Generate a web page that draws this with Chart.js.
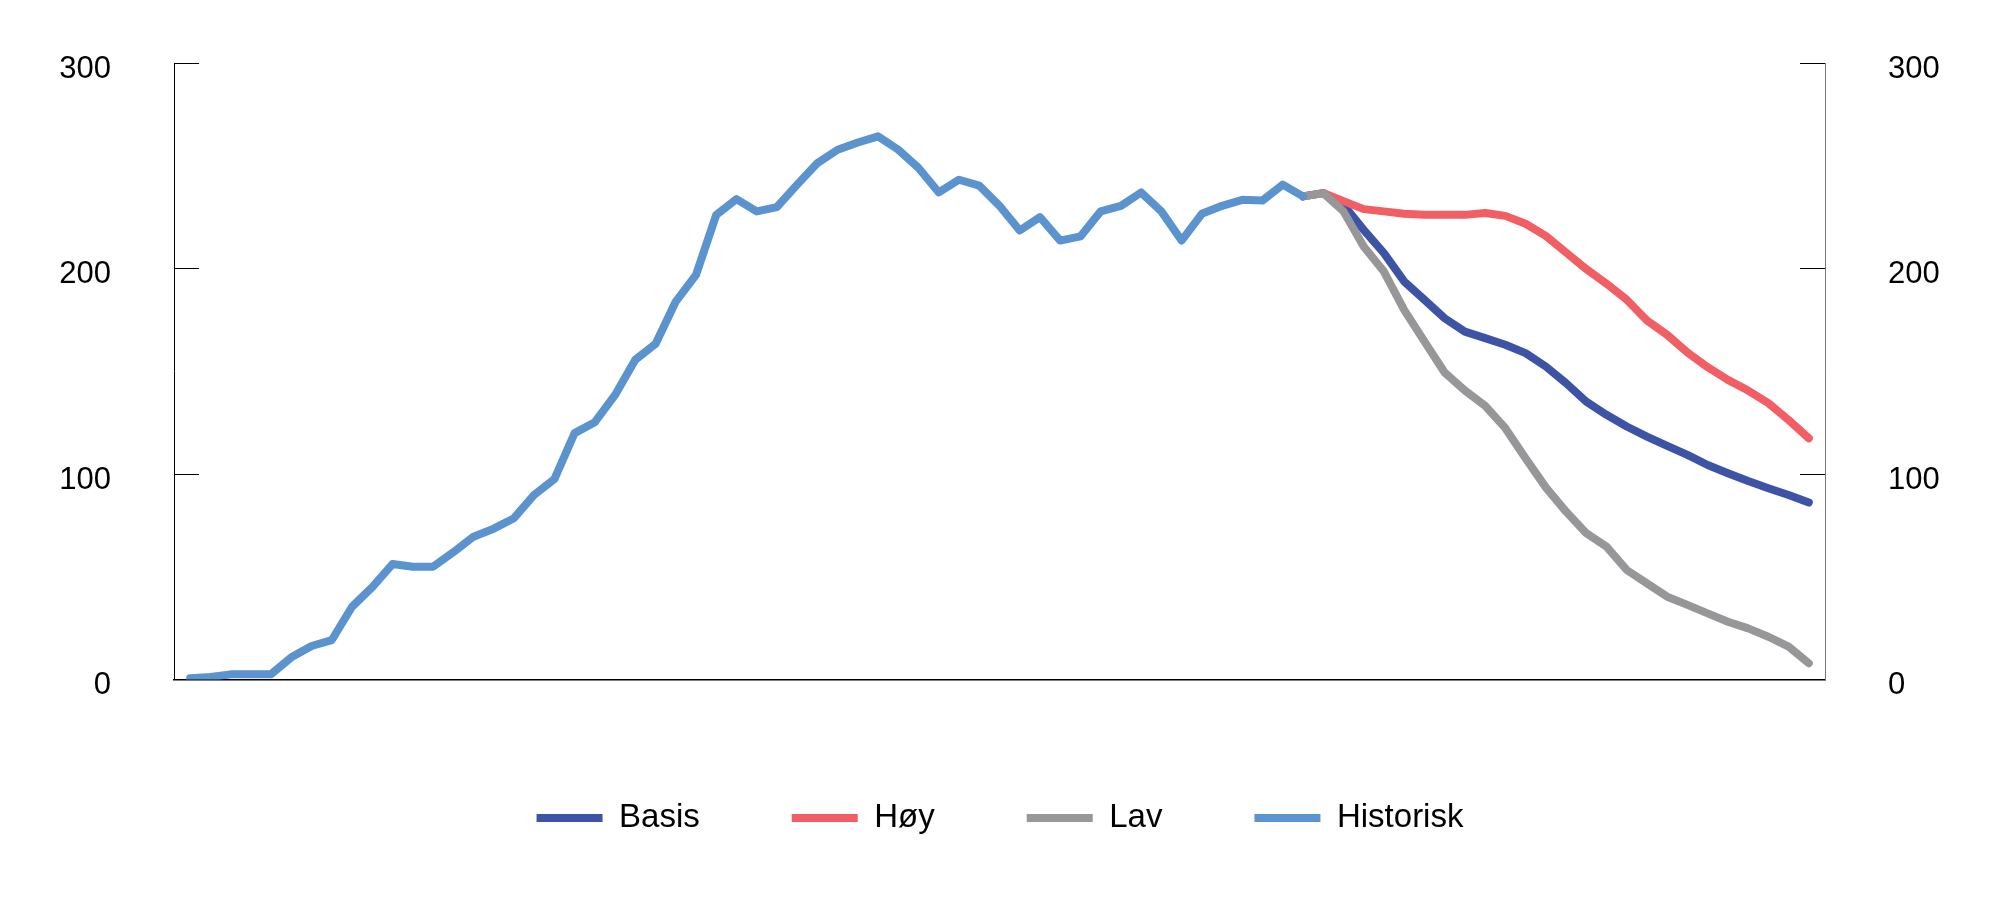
<!DOCTYPE html>
<html>
<head>
<meta charset="utf-8">
<script src="https://cdn.jsdelivr.net/npm/chart.js@4.4.1/dist/chart.umd.min.js"></script>
<style>
	html, body { margin: 0; padding: 0; background: #fff; }
	canvas { display: block; }
</style>
</head>
<body>
<canvas id="myChart" width="2000" height="908"></canvas>
<script>
	// historiske tall 1970-2025
	const histYears = [];
	for (let y = 1970; y <= 2025; y++) histYears.push(y);
	const historisk = [
		0.6, 1.2, 2.5, 2.5, 2.6, 10.8, 16.3, 19.2, 35.4, 44.9,
		56.2, 54.9, 54.9, 61.9, 69.5, 73.4, 78.5, 89.8, 97.5, 119.9,
		125.2, 138.5, 155.6, 163.3, 183.9, 196.9, 226.1, 233.8, 227.8, 229.9,
		240.8, 251.3, 257.8, 261.3, 264.3, 257.8, 248.9, 237, 243.2, 240.3,
		230.5, 218.5, 225, 213.6, 215.6, 227.8, 230.5, 237, 227.8, 213.6,
		226.6, 230.5, 233.4, 233.1, 240.8, 235.1
	];

	// framskrivinger 2025-2050
	const projYears = [];
	for (let y = 2025; y <= 2050; y++) projYears.push(y);
	const basis = [
		235.1, 236.7, 231, 218.8, 207.5, 193.7, 184.8, 175.8, 169.3, 166.1,
		162.9, 158.8, 152.3, 144.2, 135.2, 128.8, 123.1, 118.2, 113.7, 109.3,
		104.4, 100.4, 96.6, 93.1, 89.8, 86.1
	];
	const hoy = [
		235.1, 236.7, 232.8, 228.9, 227.8, 226.6, 226.1, 226.1, 226.1, 227,
		225.6, 221.8, 215.9, 207.8, 199.7, 192.6, 184.8, 174.7, 167.7, 159.1,
		152, 145.8, 140.6, 134.5, 126.3, 117.4
	];
	const lav = [
		235.1, 236.7, 227.8, 210.7, 198.5, 179.9, 164.5, 149.4, 140.6, 133.2,
		122.3, 107.7, 93.5, 81.7, 71.2, 64.7, 53.3, 46.8, 40.3, 36.3,
		32.2, 28.1, 24.9, 20.8, 16, 7.9
	];

	const xTicks = [1980, 2000, 2020, 2040];
	const yTicks = [0, 100, 200, 300];
	const legendOrder = ['Basis', 'Høy', 'Lav', 'Historisk'];

	const colors = {
		'Basis': '#3D54A6',
		'Høy': '#F15E64',
		'Lav': '#979699',
		'Historisk': '#5B93CF'
	};

	const font = "'Liberation Sans', Arial, Helvetica, sans-serif";

	const toPoints = (xs, ys) => xs.map((x, i) => ({x: x, y: ys[i]}));

	const makeSet = (label, xs, ys) => ({
		label: label,
		data: toPoints(xs, ys),
		borderColor: colors[label],
		backgroundColor: colors[label],
		borderWidth: 8,
		borderCapStyle: 'round',
		borderJoinStyle: 'round',
		pointRadius: 0,
		tension: 0,
		fill: false
	});

	// index 0 is drawn on top
	const datasets = [
		makeSet('Historisk', histYears, historisk),
		makeSet('Lav', projYears, lav),
		makeSet('Høy', projYears, hoy),
		makeSet('Basis', projYears, basis)
	];

	const yAxis = (position, width) => ({
		type: 'linear',
		position: position,
		display: true,
		min: 0,
		max: 300,
		afterBuildTicks: scale => { scale.ticks = yTicks.map(v => ({value: v})); },
		afterFit: scale => {
			scale.width = width;
			// big tick padding should not push the chart area down
			scale.paddingTop = 0;
			scale.paddingBottom = 0;
		},
		grid: {
			display: true,
			drawOnChartArea: false,
			drawTicks: true,
			tickLength: -25,
			color: '#000',
			lineWidth: 1
		},
		border: {
			display: true,
			color: position === 'left' ? '#000' : '#777',
			width: 1
		},
		ticks: {
			padding: 88,
			labelOffset: 6,
			color: '#000',
			font: {family: font, size: 31}
		}
	});

	new Chart(document.getElementById('myChart'), {
		type: 'line',
		data: {datasets: datasets},
		options: {
			responsive: false,
			animation: false,
			devicePixelRatio: 1,
			layout: {
				padding: {top: 63, left: 0, right: 0, bottom: 63.5}
			},
			scales: {
				x: {
					type: 'linear',
					position: 'bottom',
					min: 1969.2,
					max: 2050.8,
					afterBuildTicks: scale => { scale.ticks = xTicks.map(v => ({value: v})); },
					afterFit: scale => { scale.height = 30; },
					grid: {display: false, drawTicks: false},
					border: {display: true, color: '#000', width: 1.5},
					ticks: {
						padding: 38,
						maxRotation: 0,
						color: '#000',
						font: {family: font, size: 31},
						callback: v => String(v)
					}
				},
				y: yAxis('left', 174),
				y2: yAxis('right', 175)
			},
			plugins: {
				tooltip: {enabled: false},
				legend: {
					position: 'bottom',
					align: 'center',
					labels: {
						boxWidth: 66,
						boxHeight: 8,
						padding: 92,
						color: '#000',
						font: {family: font, size: 33},
						generateLabels: chart => legendOrder.map(name => ({
							text: name,
							fillStyle: colors[name],
							strokeStyle: colors[name],
							lineWidth: 0,
							hidden: false,
							fontColor: '#000',
							datasetIndex: chart.data.datasets.findIndex(d => d.label === name)
						}))
					}
				}
			}
		}
	});
</script>
</body>
</html>
